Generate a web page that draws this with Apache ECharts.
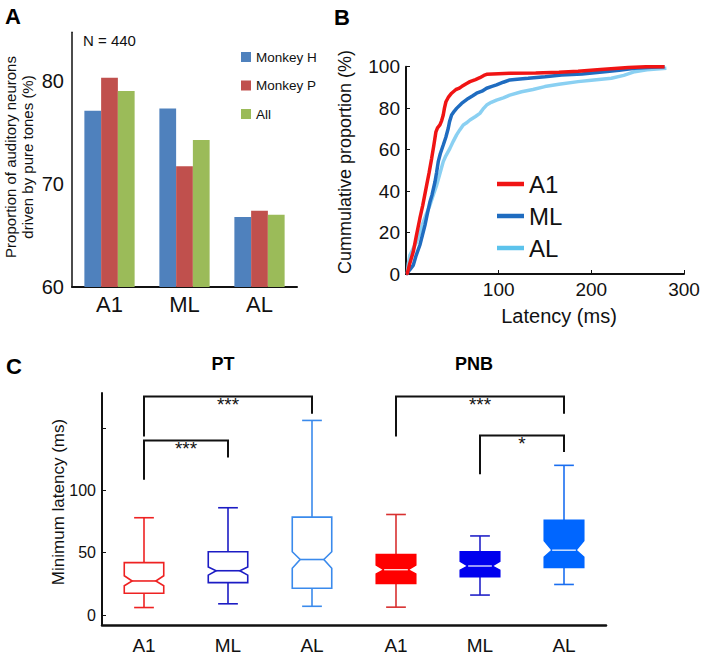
<!DOCTYPE html>
<html><head><meta charset="utf-8">
<script src="https://cdn.jsdelivr.net/npm/echarts@6/dist/echarts.min.js"></script>
<style>html,body{margin:0;padding:0;background:#fff}#chart{width:708px;height:655px}</style>
</head><body><div id="chart"></div>
<script>
const FONT = '"Liberation Sans", Arial, Helvetica, sans-serif';

// ---------- Panel A data ----------
const regionsA = ['A1', 'ML', 'AL'];
const monkeyH = [77.1, 77.3, 66.8];
const monkeyP = [80.3, 71.7, 67.4];
const allMonkeys = [79.0, 74.25, 67.0];
const ticksAY = [60, 70, 80];

// ---------- Panel B data (cumulative proportion vs latency) ----------
const cdfA1 = [[0,0],[1.4,0.3],[4,5],[7.9,10.8],[11,18],[15,26.9],[18,33],[22.3,42.9],[25,49],[27.7,55.8],[30,62],[32.3,68.6],[34,70.5],[36.6,71.9],[38.5,74],[40.2,76.7],[41.5,80],[43.1,83.1],[46,85.5],[49.2,87.2],[53.9,89],[57,89.5],[60,90.4],[65,91.8],[69,92.8],[75,93.8],[79.7,94.7],[84,95.8],[87,96.3],[100,96.6],[112,96.8],[140,97],[165,97.3],[185.7,97.8],[210,98.6],[240,99.6],[260,100],[279,100]];
const cdfML = [[0,0],[1.4,0.3],[4,2],[7.9,4.3],[11,9],[15,14],[20.5,23.6],[23,29],[25.9,34.9],[28,38],[31.3,44.5],[33,49],[34.8,54.2],[37,58],[40.2,62.2],[43,66],[45.6,70.3],[47,73.5],[49.2,76.7],[52,78.5],[54.6,79.9],[60,82.3],[67.2,84.7],[72,86],[76.2,87.2],[82,88.2],[87,89.6],[92,90.4],[97.7,91.2],[105,92.5],[112,93.6],[120,94],[131.8,94.4],[150,95.2],[167.8,96],[190,96.5],[214.4,97.6],[230,98.3],[246.8,99.2],[265,99.7],[279,100]];
const cdfAL = [[0,0],[1.4,0.3],[2.5,5],[4.3,9.2],[8,12.5],[11.5,15.6],[15,20],[18.7,25.2],[22,29],[25.9,33.3],[29,37.5],[33.1,42.9],[36,47.5],[40.2,54.2],[43,57],[47.4,60.6],[51,64],[54.6,67.1],[58,69.5],[61.8,71.9],[65,72.8],[69,74.3],[75,76],[79.7,77.5],[83,79.5],[87,81.5],[92,82.8],[97.7,83.9],[105,85],[112,86.3],[124.7,87.9],[137,89],[149.8,90.4],[165,91.5],[185.7,92.8],[200,93.5],[221.6,94.4],[235,95.8],[246.8,97.6],[260,98.5],[281,99.2]];
const ticksBX = [100, 200, 300];

// ---------- Panel C data (minimum latency box plots) ----------
const boxCategories = ['A1', 'ML', 'AL', 'A1', 'ML', 'AL'];
const whiskerLow  = [6, 9, 7, 6.3, 16, 24.5];
const quartile1   = [17.5, 26, 21.5, 25.3, 30.7, 38.2];
const medians     = [27.3, 35.5, 44.5, 36.3, 39.3, 52];
const quartile3   = [42, 50.7, 78.5, 48.5, 50.7, 76];
const whiskerHigh = [78, 86, 156, 80.6, 63.4, 120];
const notchLow    = [23.5, 32, 37.5, 33, 36, 46.5];
const notchHigh   = [31.5, 38.5, 50.7, 40, 43, 59.5];
const ticksCY = [0, 50, 100];
const tickMarksCY = [0, 50, 100, 150];
const bracketFrom = [0, 0, 3, 4];
const bracketTo = [2, 1, 5, 5];
const bracketTop = [175.2, 140, 175.2, 144];
const bracketLeftEnd = [143.2, 108.5, 143.2, 112.8];
const bracketRightEnd = [161.4, 126.2, 161.4, 130.6];
const bracketStars = ['***', '***', '***', '*'];

// ---------- styles ----------
const boxStroke = ['#ee2222', '#1c1cc4', '#3a8aec', '#d83030', '#2222c8', '#1a6ef0'];
const boxFill = [null, null, null, '#ff0000', '#0000ee', '#0066ff'];

const chart = echarts.init(document.getElementById('chart'), null, {renderer: 'svg'});

function renderBox(params, api) {
  const i = api.value(0);
  const idx = params.dataIndex;
  const yy = v => api.coord([i, v])[1];
  const cx = api.coord([i, 0])[0];
  const bw = api.size([1, 0])[0] * 0.47;
  const x0 = cx - bw / 2, x1 = cx + bw / 2, ind = bw * 0.2;
  const yLow = yy(api.value(1)), yQ1 = yy(api.value(2)), yMed = yy(api.value(3));
  const yQ3 = yy(api.value(4)), yHigh = yy(api.value(5)), yNL = yy(api.value(6)), yNH = yy(api.value(7));
  const stroke = boxStroke[idx], fill = boxFill[idx];
  const ls = {stroke: stroke, lineWidth: 1.6};
  return {
    type: 'group',
    children: [
      {type: 'line', shape: {x1: cx, y1: yQ3, x2: cx, y2: yHigh}, style: ls},
      {type: 'line', shape: {x1: cx - bw / 4, y1: yHigh, x2: cx + bw / 4, y2: yHigh}, style: ls},
      {type: 'line', shape: {x1: cx, y1: yQ1, x2: cx, y2: yLow}, style: ls},
      {type: 'line', shape: {x1: cx - bw / 4, y1: yLow, x2: cx + bw / 4, y2: yLow}, style: ls},
      {type: 'polygon', shape: {points: [[x0, yQ3], [x1, yQ3], [x1, yNH], [x1 - ind, yMed], [x1, yNL], [x1, yQ1], [x0, yQ1], [x0, yNL], [x0 + ind, yMed], [x0, yNH]]},
        style: {fill: fill || 'none', stroke: fill || stroke, lineWidth: 1.6}},
      {type: 'line', shape: {x1: x0 + ind, y1: yMed, x2: x1 - ind, y2: yMed}, style: {stroke: fill ? '#ffffff' : stroke, lineWidth: fill ? 1.2 : 1.6}}
    ]
  };
}

function renderBracket(params, api) {
  const idx = params.dataIndex;
  const p1 = api.coord([api.value(0), api.value(3)]);
  const p2 = api.coord([api.value(0), api.value(2)]);
  const p3 = api.coord([api.value(1), api.value(2)]);
  const p4 = api.coord([api.value(1), api.value(4)]);
  return {
    type: 'group',
    children: [
      {type: 'polyline', shape: {points: [p1, p2, p3, p4]}, style: {stroke: '#111', lineWidth: 2, fill: 'none'}},
      {type: 'text', x: (p2[0] + p3[0]) / 2, y: p2[1] - 1,
        style: {text: bracketStars[idx], fontSize: 19, fontFamily: FONT, fill: '#111', align: 'center', verticalAlign: 'top'}}
    ]
  };
}

const axisText = (size) => ({color: '#111', fontSize: size, fontFamily: FONT});

const option = {
  animation: false,
  backgroundColor: '#fff',
  textStyle: {fontFamily: FONT},
  grid: [
    {left: 72, top: 32.3, width: 225, height: 254.7},
    {left: 406, top: 66.7, width: 278, height: 207.3},
    {left: 102, top: 393, width: 504, height: 232}
  ],
  legend: [
    {data: ['Monkey H', 'Monkey P', 'All'], orient: 'vertical', left: 236, top: 44, icon: 'rect',
      itemWidth: 10, itemHeight: 10, itemGap: 12.5, selectedMode: false,
      textStyle: {fontSize: 13.5, lineHeight: 16, color: '#111', fontFamily: FONT}},
    {data: ['A1', 'ML', 'AL'], orient: 'vertical', left: 492, top: 165, icon: 'rect',
      itemWidth: 27, itemHeight: 4.5, itemGap: 4, selectedMode: false,
      textStyle: {fontSize: 24, lineHeight: 28, color: '#111', fontFamily: FONT}}
  ],
  xAxis: [
    {gridIndex: 0, type: 'category', data: regionsA,
      axisLine: {lineStyle: {color: '#111', width: 2}}, axisTick: {show: false},
      axisLabel: Object.assign(axisText(22), {margin: 6})},
    {gridIndex: 1, type: 'value', min: 0, max: 300,
      axisLine: {show: true, onZero: false, lineStyle: {color: '#111', width: 2}},
      axisTick: {show: true, inside: true, length: 4, customValues: ticksBX, lineStyle: {color: '#111'}},
      splitLine: {show: false},
      axisLabel: Object.assign(axisText(19), {margin: 6, customValues: ticksBX})},
    {gridIndex: 2, type: 'category', data: boxCategories,
      axisLine: {onZero: false, lineStyle: {color: '#111', width: 2.5}}, axisTick: {show: false},
      axisLabel: Object.assign(axisText(19), {margin: 11, interval: 0})}
  ],
  yAxis: [
    {gridIndex: 0, type: 'value', min: 60, max: 84.7,
      axisLine: {show: true, lineStyle: {color: '#111', width: 1.5}}, axisTick: {show: false},
      splitLine: {show: false},
      axisLabel: Object.assign(axisText(20), {margin: 8, customValues: ticksAY})},
    {gridIndex: 1, type: 'value', min: 0, max: 100, interval: 20,
      axisLine: {show: true, lineStyle: {color: '#111', width: 2}},
      axisTick: {show: true, inside: true, length: 4, lineStyle: {color: '#111'}},
      splitLine: {show: false},
      axisLabel: Object.assign(axisText(19), {margin: 6})},
    {gridIndex: 2, type: 'value', min: -8, max: 178,
      axisLine: {show: true, lineStyle: {color: '#111', width: 2}},
      axisTick: {show: true, inside: true, length: 4, customValues: tickMarksCY, lineStyle: {color: '#111'}},
      splitLine: {show: false},
      axisLabel: Object.assign(axisText(16), {margin: 6, customValues: ticksCY})}
  ],
  series: [
    {name: 'Monkey H', type: 'bar', xAxisIndex: 0, yAxisIndex: 0, data: monkeyH, barGap: '0%', barCategoryGap: '33%', itemStyle: {color: '#4f81bd'}},
    {name: 'Monkey P', type: 'bar', xAxisIndex: 0, yAxisIndex: 0, data: monkeyP, itemStyle: {color: '#c0504d'}},
    {name: 'All', type: 'bar', xAxisIndex: 0, yAxisIndex: 0, data: allMonkeys, itemStyle: {color: '#9bbb59'}},
    {name: 'AL', type: 'line', xAxisIndex: 1, yAxisIndex: 1, data: cdfAL, showSymbol: false, symbol: 'none',
      lineStyle: {width: 3.5, color: '#8ad0f2'}, itemStyle: {color: '#5cc3ec'}},
    {name: 'ML', type: 'line', xAxisIndex: 1, yAxisIndex: 1, data: cdfML, showSymbol: false, symbol: 'none',
      lineStyle: {width: 3.5, color: '#1f6cc0'}, itemStyle: {color: '#1f6cc0'}},
    {name: 'A1', type: 'line', xAxisIndex: 1, yAxisIndex: 1, data: cdfA1, showSymbol: false, symbol: 'none',
      lineStyle: {width: 3.5, color: '#f01414'}, itemStyle: {color: '#f01414'}},
    {name: 'boxes', type: 'custom', xAxisIndex: 2, yAxisIndex: 2, renderItem: renderBox, clip: false,
      encode: {x: 0, y: [1, 2, 3, 4, 5, 6, 7]},
      data: boxCategories.map((c, i) => [i, whiskerLow[i], quartile1[i], medians[i], quartile3[i], whiskerHigh[i], notchLow[i], notchHigh[i]])},
    {name: 'brackets', type: 'custom', xAxisIndex: 2, yAxisIndex: 2, renderItem: renderBracket, clip: false,
      encode: {x: [0, 1], y: [2, 3, 4]},
      data: bracketFrom.map((f, i) => [f, bracketTo[i], bracketTop[i], bracketLeftEnd[i], bracketRightEnd[i]])}
  ],
  graphic: [
    {type: 'text', x: 5, y: 16, style: {text: 'A', fontSize: 22, fontWeight: 'bold', fontFamily: FONT, fill: '#000', align: 'left', verticalAlign: 'middle'}},
    {type: 'text', x: 334, y: 17, style: {text: 'B', fontSize: 22, fontWeight: 'bold', fontFamily: FONT, fill: '#000', align: 'left', verticalAlign: 'middle'}},
    {type: 'text', x: 6, y: 366, style: {text: 'C', fontSize: 22, fontWeight: 'bold', fontFamily: FONT, fill: '#000', align: 'left', verticalAlign: 'middle'}},
    {type: 'text', x: 83, y: 40, style: {text: 'N = 440', fontSize: 15, fontFamily: FONT, fill: '#111', align: 'left', verticalAlign: 'middle'}},
    {type: 'text', x: 10, y: 157, rotation: Math.PI / 2, style: {text: 'Proportion of auditory neurons', fontSize: 15, fontFamily: FONT, fill: '#111', align: 'center', verticalAlign: 'middle'}},
    {type: 'text', x: 27, y: 157, rotation: Math.PI / 2, style: {text: 'driven by pure tones (%)', fontSize: 15, fontFamily: FONT, fill: '#111', align: 'center', verticalAlign: 'middle'}},
    {type: 'text', x: 345, y: 162, rotation: Math.PI / 2, style: {text: 'Cummulative proportion (%)', fontSize: 18, fontFamily: FONT, fill: '#111', align: 'center', verticalAlign: 'middle'}},
    {type: 'text', x: 559, y: 316, style: {text: 'Latency (ms)', fontSize: 20, fontFamily: FONT, fill: '#111', align: 'center', verticalAlign: 'middle'}},
    {type: 'text', x: 58, y: 502, rotation: Math.PI / 2, style: {text: 'Minimum latency (ms)', fontSize: 17, fontFamily: FONT, fill: '#111', align: 'center', verticalAlign: 'middle'}},
    {type: 'text', x: 223, y: 364, style: {text: 'PT', fontSize: 18, fontWeight: 'bold', fontFamily: FONT, fill: '#000', align: 'center', verticalAlign: 'middle'}},
    {type: 'text', x: 474, y: 364, style: {text: 'PNB', fontSize: 18, fontWeight: 'bold', fontFamily: FONT, fill: '#000', align: 'center', verticalAlign: 'middle'}}
  ]
};
chart.setOption(option);
</script></body></html>
